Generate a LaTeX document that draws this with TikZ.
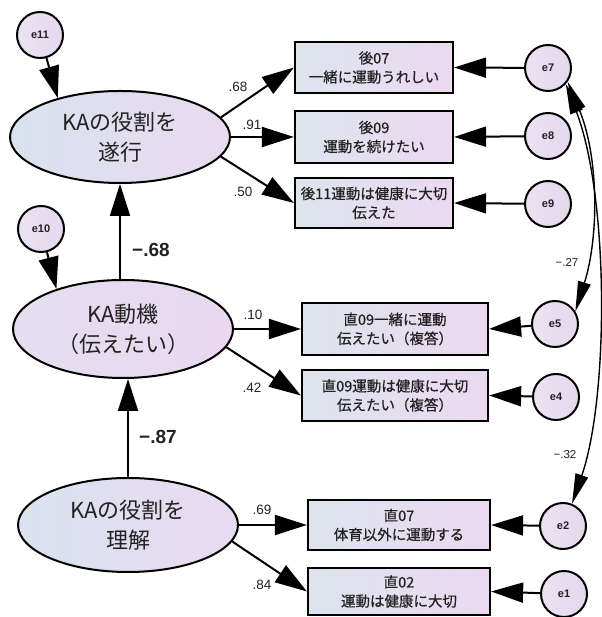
\documentclass[tikz,border=0pt]{standalone}
\usepackage{fontspec}
\setmainfont{Liberation Sans}
\newfontfamily\jp{Noto Sans CJK JP}
\newfontfamily\jpb{Noto Sans CJK JP}[FakeBold=0.6]
\usetikzlibrary{arrows.meta,shapes.geometric}
\definecolor{boxL}{HTML}{DDE4EE}
\definecolor{boxR}{HTML}{EBD9F0}
\definecolor{latL}{HTML}{D9E2EE}
\definecolor{latR}{HTML}{E9DAF0}
\definecolor{motL}{HTML}{E4DEF0}
\definecolor{motR}{HTML}{EAD8F0}
\definecolor{errL}{HTML}{EBE2F1}
\definecolor{errR}{HTML}{E5D8EE}
\definecolor{ink}{HTML}{222222}
\begin{document}
\begin{tikzpicture}[x=1pt,y=1pt,
  lat/.style={ellipse, draw=black, line width=2pt, minimum width=220pt, inner sep=0pt,
    left color=latL, right color=latR, font=\jp\fontsize{22}{30}\selectfont, align=center, text=ink},
  obs/.style={rectangle, draw=black, line width=2.2pt, left color=boxL, right color=boxR, inner sep=0pt,
    font=\jpb\fontsize{14.5}{19}\selectfont, align=center, text=ink},
  err/.style={circle, draw=black, line width=2pt, minimum size=46pt, inner sep=0pt,
    left color=errL, right color=errR, font=\bfseries\fontsize{11}{13}\selectfont, text=ink},
  pathar/.style={line width=2pt, -{Triangle[length=32pt,width=20pt]}},
  covar/.style={line width=1.4pt, {Triangle[length=30pt,width=13pt]}-{Triangle[length=30pt,width=13pt]}},
  lab/.style={font=\fontsize{13.5}{15}\selectfont, text=ink, inner sep=0pt},
  biglab/.style={font=\bfseries\fontsize{19}{22}\selectfont, text=ink, inner sep=0pt},
  covlab/.style={font=\fontsize{11.5}{13}\selectfont, text=ink, inner sep=0pt}
]
\fill[white] (0,0) rectangle (601,617);
\useasboundingbox (0,0) rectangle (601,617);

% latent variables
\node[lat, minimum height=92pt] (E1) at (120,480) {KAの役割を\\遂行};
\node[lat, minimum height=98pt, left color=motL, right color=motR] (E2) at (123,288) {KA動機\\（伝えたい）};
\node[lat, minimum height=94pt] (E3) at (128,92) {KAの役割を\\理解};

% error terms of latents
\node[err] (e11) at (40,582) {e11};
\node[err] (e10) at (41,388) {e10};

% observed variables
\node[obs, minimum width=158pt, minimum height=51pt] (b1) at (374,549.5) {後07\\一緒に運動うれしい};
\node[obs, minimum width=158pt, minimum height=52pt] (b2) at (374,480) {後09\\運動を続けたい};
\node[obs, minimum width=158pt, minimum height=50pt] (b3) at (374,414) {後11運動は健康に大切\\伝えた};
\node[obs, minimum width=186pt, minimum height=52pt] (b4) at (395,288) {直09一緒に運動\\伝えたい（複答）};
\node[obs, minimum width=186pt, minimum height=51pt] (b5) at (395,221.5) {直09運動は健康に大切\\伝えたい（複答）};
\node[obs, minimum width=182pt, minimum height=50pt] (b6) at (399,92) {直07\\体育以外に運動する};
\node[obs, minimum width=182pt, minimum height=47pt] (b7) at (399,25.5) {直02\\運動は健康に大切};

% error terms of observed
\node[err] (e7) at (548,549) {e7};
\node[err] (e8) at (548,481) {e8};
\node[err] (e9) at (548,413) {e9};
\node[err] (e5) at (555,293) {e5};
\node[err] (e4) at (556,220) {e4};
\node[err] (e2) at (563,91) {e2};
\node[err] (e1) at (564,23) {e1};

% structural paths
\draw[pathar] (e11) -- (E1.148);
\draw[pathar] (e10) -- (E2.149);
\draw[pathar] (E1.south |- E2.north) -- (E1.south);
\draw[pathar] (E3.north) -- (E3.north |- E2.south);
\node[biglab] (l68) at (151,367) {−.68};
\node[biglab] (l87) at (158,180) {−.87};

% loadings
\draw[pathar] (E1.11) -- (b1.west);
\draw[pathar] (E1.east) -- (b2.west);
\draw[pathar] (E1.-11) -- (b3.west);
\draw[pathar] (E2.east) -- (b4.west);
\draw[pathar] (E2.-10) -- (b5.west);
\draw[pathar] (E3.east) -- (b6.west);
\draw[pathar] (E3.-9) -- (b7.west);
\node[lab] (l1) at (238,530) {.68};
\node[lab] (l2) at (252,492) {.91};
\node[lab] (l3) at (243,425) {.50};
\node[lab] (l4) at (253,302) {.10};
\node[lab] (l5) at (252,229) {.42};
\node[lab] (l6) at (262,107) {.69};
\node[lab] (l7) at (262,32) {.84};

% residual arrows
\draw[pathar] (e7) -- (b1.east);
\draw[pathar] (e8) -- (b2.east);
\draw[pathar] (e9) -- (b3.east);
\draw[pathar] (e5) -- (b4.east);
\draw[pathar] (e4) -- (b5.east);
\draw[pathar] (e2) -- (b6.east);
\draw[pathar] (e1) -- (b7.east);

% covariances
\draw[covar] (e7.-35) .. controls (599,460) and (599,380) .. (e5.32);
\draw[covar] (e7.-42) .. controls (609,420) and (609,220) .. (e2.68);
\node[covlab] (c1) at (567,355) {−.27};
\node[covlab] (c2) at (565,162) {−.32};
\end{tikzpicture}
\end{document}
